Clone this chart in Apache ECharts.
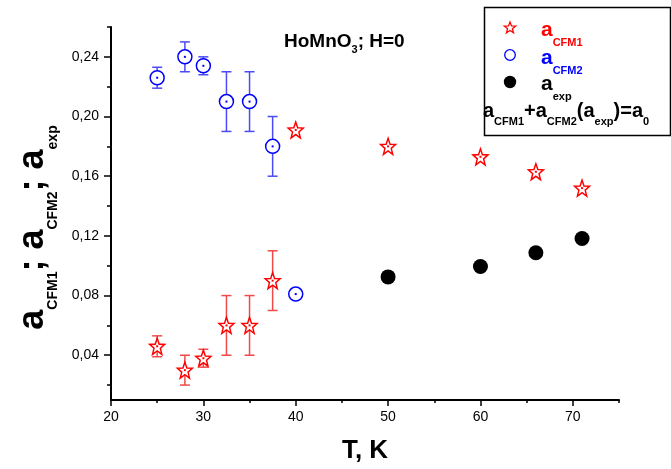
<!DOCTYPE html>
<html><head><meta charset="utf-8">
<script src="https://cdn.jsdelivr.net/npm/echarts@6/dist/echarts.min.js"></script>
<style>html,body{margin:0;padding:0;background:#fff}#c{width:671px;height:469px}</style>
</head><body><div id="c"></div>
<script>
// ---- data ----
const cfm1T   = [25, 28, 30, 32.5, 35, 37.5, 40, 50, 60, 66, 71];
const cfm1A   = [0.046, 0.030, 0.038, 0.060, 0.060, 0.090, 0.191, 0.180, 0.173, 0.163, 0.152];
const cfm1Err = [0.007, 0.010, 0.006, 0.020, 0.020, 0.020, 0.003, 0.003, 0.003, 0.003, 0.003];
const cfm2T   = [25, 28, 30, 32.5, 35, 37.5, 40];
const cfm2A   = [0.226, 0.240, 0.234, 0.210, 0.210, 0.180, 0.081];
const cfm2Err = [0.007, 0.010, 0.006, 0.020, 0.020, 0.020, 0.002];
const expT    = [50, 60, 66, 71];
const expA    = [0.0925, 0.0995, 0.1087, 0.1182];
const xLabels = [20, 30, 40, 50, 60, 70];
const xMinor  = [25, 35, 45, 55, 65, 75];
const yLabels = [0.04, 0.08, 0.12, 0.16, 0.20, 0.24];
const yMinor  = [0.02, 0.06, 0.10, 0.14, 0.18, 0.22, 0.26];
const legendNames = ['CFM1', 'CFM2', 'exp'];

const FONT = "'Liberation Sans', Arial, sans-serif";
// star outline in a 100x100 box (centre 50,50)
const STAR_PTS = [[50,0],[62.34,33.01],[97.55,34.55],[69.97,56.49],[79.39,90.45],[50,71],[20.61,90.45],[30.03,56.49],[2.45,34.55],[37.66,33.01]];
const STAR = 'path://M' + STAR_PTS.map(p => p.join(' ')).join(' L') + ' Z';
const RED = '#ff0000', BLUE = '#0000ff';

const zip2 = (a, b) => a.map((v, i) => [v, b[i]]);
const zip3 = (a, b, c) => a.map((v, i) => [v, b[i], c[i]]);

function errRender(color) {
  return function (params, api) {
    const x = api.value(0), y = api.value(1), e = api.value(2);
    const p1 = api.coord([x, y + e]), p2 = api.coord([x, y - e]);
    const st = { stroke: color, lineWidth: 1.5 };
    const ch = [{ type: 'line', shape: { x1: p1[0], y1: p1[1], x2: p2[0], y2: p2[1] }, style: st }];
    if (e >= 0.005) {
      ch.push({ type: 'line', shape: { x1: p1[0] - 5, y1: p1[1], x2: p1[0] + 5, y2: p1[1] }, style: st });
      ch.push({ type: 'line', shape: { x1: p2[0] - 5, y1: p2[1], x2: p2[0] + 5, y2: p2[1] }, style: st });
    }
    return { type: 'group', children: ch };
  };
}

const subRich = (big, small, pad) => ({
  a: { fontFamily: FONT, fontWeight: 'bold', fontSize: big, lineHeight: big, padding: [0, 0, pad, 0], verticalAlign: 'bottom' },
  s: { fontFamily: FONT, fontWeight: 'bold', fontSize: small, lineHeight: small, verticalAlign: 'bottom' }
});

const chart = echarts.init(document.getElementById('c'), null, { renderer: 'canvas' });
const axisCommon = { lineStyle: { color: '#000', width: 2 } };

const legendColors = [RED, BLUE, '#000'];
const legendTops = [20, 48, 74];
const starIcon = STAR_PTS.map(p => [510 + (p[0] - 50) * 0.12, 28 + (p[1] - 50) * 0.12]);
const legendGraphics = [
  { type: 'polygon', z: 10, shape: { points: starIcon }, style: { fill: '#fff', stroke: RED, lineWidth: 1.3 } },
  { type: 'circle', z: 10, shape: { cx: 510, cy: 55, r: 5.3 }, style: { fill: '#fff', stroke: BLUE, lineWidth: 1.3 } },
  { type: 'circle', z: 10, shape: { cx: 510, cy: 82, r: 6.2 }, style: { fill: '#000' } }
].concat(legendNames.map((n, i) => ({
  type: 'text', left: 541, top: legendTops[i], z: 10,
  style: { text: '{a|a}{s|' + n + '}', fill: legendColors[i], rich: subRich(21, 11, 7) }
})));

chart.setOption({
  animation: false,
  backgroundColor: '#fff',
  grid: { left: 111, right: 52, top: 27, bottom: 69, containLabel: false },
  xAxis: [{
    type: 'value', min: 20, max: 75, position: 'bottom',
    axisLine: { show: true, onZero: false, ...axisCommon },
    axisTick: { show: true, length: 6, lineStyle: { color: '#000', width: 1.5 }, customValues: xLabels },
    axisLabel: { customValues: xLabels, color: '#000', fontFamily: FONT, fontSize: 14, margin: 10 },
    splitLine: { show: false },
    name: 'T, K', nameLocation: 'middle', nameGap: 38,
    nameTextStyle: { fontFamily: FONT, fontWeight: 'bold', fontSize: 26, color: '#000' }
  }, {
    type: 'value', min: 20, max: 75, position: 'bottom',
    axisLine: { show: false },
    axisTick: { show: true, length: 3, lineStyle: { color: '#000', width: 1.5 }, customValues: xMinor },
    axisLabel: { show: false }, splitLine: { show: false }
  }],
  yAxis: [{
    type: 'value', min: 0.01, max: 0.26, position: 'left',
    axisLine: { show: true, onZero: false, ...axisCommon },
    axisTick: { show: true, length: 7, lineStyle: { color: '#000', width: 1.5 }, customValues: yLabels },
    axisLabel: { customValues: yLabels, color: '#000', fontFamily: FONT, fontSize: 14, margin: 12,
      formatter: v => v.toFixed(2).replace('.', ',') },
    splitLine: { show: false },
    name: '{a|a}{s|CFM1}{a|; a}{s|CFM2}{a|; a}{s|exp}',
    nameLocation: 'middle', nameRotate: 90, nameGap: 51,
    nameTextStyle: { color: '#000', padding: [0, 28, 0, 0], rich: subRich(36, 14, 9) }
  }, {
    type: 'value', min: 0.01, max: 0.26, position: 'left',
    axisLine: { show: false },
    axisTick: { show: true, length: 4, lineStyle: { color: '#000', width: 1.5 }, customValues: yMinor },
    axisLabel: { show: false }, splitLine: { show: false }
  }],
  graphic: [
    { type: 'rect', left: 482, top: 5, shape: { width: 186, height: 128 }, style: { fill: 'none', stroke: '#000', lineWidth: 1.5 }, z: 10 },
    { type: 'text', left: 483, top: 101, z: 10, style: {
        text: '{a|a}{s|CFM1}{a|+a}{s|CFM2}{a|(a}{s|exp}{a|)=a}{s|0}',
        fill: '#000', rich: subRich(20, 11, 6) } },
    { type: 'text', left: 284, top: 32, z: 10, style: {
        text: '{a|HoMnO}{s|3}{a|; H=0}', fill: '#000', rich: subRich(19, 11, 4) } }
  ].concat(legendGraphics),
  series: [
    { name: 'errCFM1', type: 'custom', data: zip3(cfm1T, cfm1A, cfm1Err), encode: { x: 0, y: 1 }, renderItem: errRender('#f04a4a'), z: 1, silent: true },
    { name: 'errCFM2', type: 'custom', data: zip3(cfm2T, cfm2A, cfm2Err), encode: { x: 0, y: 1 }, renderItem: errRender('#4b4bf5'), z: 1, silent: true },
    { name: 'CFM1', type: 'scatter', data: zip2(cfm1T, cfm1A), symbol: STAR, symbolSize: [15, 16], symbolKeepAspect: false,
      itemStyle: { color: '#fff', borderColor: RED, borderWidth: 1.5, opacity: 1 }, z: 3 },
    { name: 'CFM2', type: 'scatter', data: zip2(cfm2T, cfm2A), symbol: 'circle', symbolSize: 14,
      itemStyle: { color: '#fff', borderColor: BLUE, borderWidth: 1.5, opacity: 1 }, z: 3 },
    { name: 'exp', type: 'scatter', data: zip2(expT, expA), symbol: 'circle', symbolSize: 15,
      itemStyle: { color: '#000', borderWidth: 0, opacity: 1 }, z: 3 },
    { name: 'dot1', type: 'scatter', data: zip2(cfm1T, cfm1A), symbol: 'rect', symbolSize: 2, itemStyle: { color: RED, opacity: 1 }, z: 4, silent: true },
    { name: 'dot2', type: 'scatter', data: zip2(cfm2T, cfm2A), symbol: 'rect', symbolSize: 2, itemStyle: { color: BLUE, opacity: 1 }, z: 4, silent: true }
  ]
});
</script></body></html>
